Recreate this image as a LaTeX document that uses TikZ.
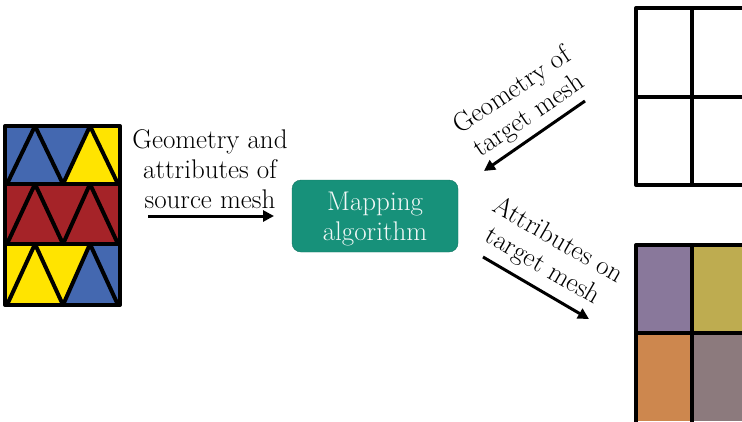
\documentclass[tikz,border=0pt]{standalone}
\usepackage{tikz}
\usetikzlibrary{arrows.meta}

\definecolor{meshblue}{RGB}{68,104,176}
\definecolor{meshred}{RGB}{165,35,40}
\definecolor{meshyellow}{RGB}{255,228,0}
\definecolor{algoteal}{RGB}{23,145,122}
\definecolor{cellpurple}{RGB}{137,120,155}
\definecolor{cellolive}{RGB}{190,172,80}
\definecolor{cellorange}{RGB}{205,135,78}
\definecolor{cellmauve}{RGB}{140,122,125}

\begin{document}
\begin{tikzpicture}[x=1pt,y=-1pt,
	every node/.style={font=\fontsize{27}{30}\selectfont,align=center,inner sep=2pt},
	meshline/.style={line width=4pt,line join=round},
	flow/.style={line width=3pt,-{Triangle[length=11pt,width=11pt]}}]
		\useasboundingbox (0,0) rectangle (742,421);

		%source mesh
		\fill[meshblue] (5,126) rectangle (120,184);
		\fill[meshyellow] (63,184) -- (90,126) -- (120,126) -- (120,184) -- cycle;
		\fill[meshred] (5,184) rectangle (120,244);
		\fill[meshyellow] (5,244) rectangle (120,305);
		\fill[meshblue] (63,305) -- (90,244) -- (120,244) -- (120,305) -- cycle;
		\draw[meshline] (7,184) -- (35,126) -- (63,184) -- (90,126) -- (118,184);
		\draw[meshline] (7,244) -- (35,184) -- (63,244) -- (90,184) -- (118,244);
		\draw[meshline] (7,305) -- (35,244) -- (63,305) -- (90,244) -- (118,305);
		\draw[meshline] (5,184) -- (120,184) (5,244) -- (120,244);
		\draw[meshline] (5,126) rectangle (120,305);

		%target geometry
		\draw[meshline] (636,8) rectangle (748,185);
		\draw[meshline] (692,8) -- (692,185) (636,97) -- (748,97);

		%target attributes
		\fill[cellpurple] (636,245) rectangle (692,333);
		\fill[cellolive] (692,245) rectangle (748,333);
		\fill[cellorange] (636,333) rectangle (692,421);
		\fill[cellmauve] (692,333) rectangle (748,421);
		\draw[meshline] (636,245) rectangle (748,424);
		\draw[meshline] (692,245) -- (692,424) (636,333) -- (748,333);

		%labels
		\node (src) at (210,169) {Geometry and\\attributes of\\source mesh};
		\node[rounded corners=9pt,fill=algoteal,draw=algoteal!80!black,text=white!94!algoteal,
			minimum width=166pt,minimum height=72pt] (algo) at (375,216) {};
		\node[text=white!94!algoteal] (algotext) at (375,219) {Mapping\\algorithm};
		\node[rotate=34] (geo) at (521,104) {Geometry of\\target mesh};
		\node[rotate=-30] (attr) at (550,254) {Attributes on\\target mesh};

		%arrow ends
		\coordinate (a1) at (148,216);
		\coordinate (a2) at (274,216);
		\coordinate (b1) at (585,101);
		\coordinate (b2) at (484,171);
		\coordinate (c1) at (483,257);
		\coordinate (c2) at (589,319);

		%arrows
		\draw[flow] (a1) -- (a2);
		\draw[flow] (b1) -- (b2);
		\draw[flow] (c1) -- (c2);
\end{tikzpicture}
\end{document}
